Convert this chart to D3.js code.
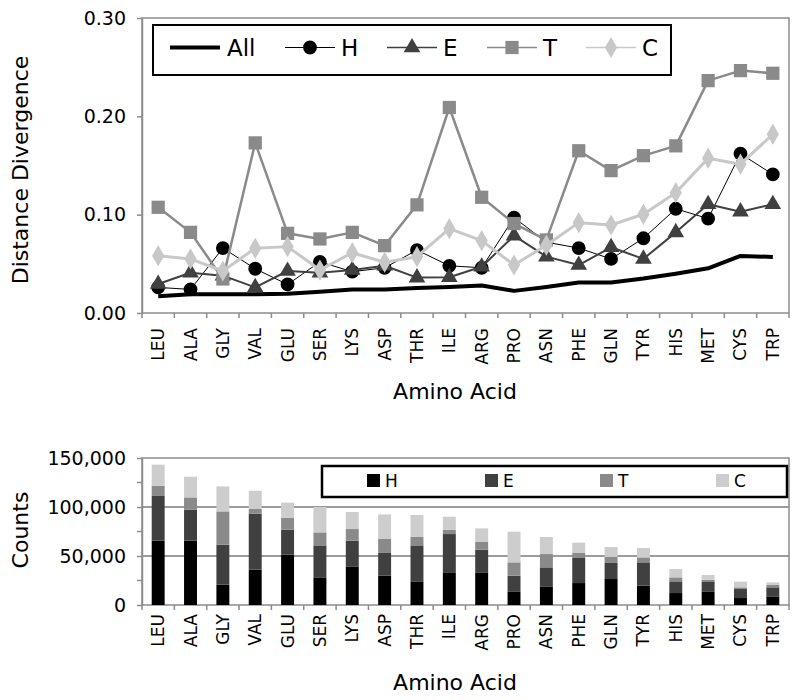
<!DOCTYPE html>
<html><head><meta charset="utf-8">
<script src="https://cdn.jsdelivr.net/npm/d3@7"></script>
<style>body{margin:0;background:#fff}svg{display:block;font-family:"DejaVu Sans",Verdana,sans-serif}</style>
</head><body>
<svg id="c" width="800" height="700"></svg>
<script>
const categories = ["LEU","ALA","GLY","VAL","GLU","SER","LYS","ASP","THR","ILE","ARG","PRO","ASN","PHE","GLN","TYR","HIS","MET","CYS","TRP"];
const divAll = [0.017,0.019,0.019,0.019,0.0195,0.0215,0.024,0.024,0.0255,0.0265,0.028,0.0225,0.0265,0.031,0.031,0.035,0.040,0.0455,0.058,0.057];
const divH = [0.026,0.024,0.066,0.045,0.029,0.052,0.042,0.046,0.064,0.048,0.046,0.097,0.072,0.066,0.055,0.076,0.106,0.096,0.162,0.141];
const divE = [0.0295,0.041,0.038,0.026,0.0427,0.041,0.0437,0.048,0.036,0.0363,0.047,0.0786,0.0573,0.0488,0.0668,0.055,0.082,0.1106,0.103,0.1106];
const divT = [0.1075,0.082,0.0346,0.173,0.081,0.0753,0.082,0.0685,0.110,0.209,0.1177,0.091,0.0743,0.165,0.1448,0.160,0.170,0.2363,0.2465,0.2438];
const divC = [0.0583,0.055,0.0427,0.0658,0.0675,0.0437,0.0613,0.0516,0.0573,0.0858,0.0736,0.0488,0.069,0.0919,0.0895,0.1004,0.1224,0.1574,0.1513,0.1818];
const cntH = [65600,65600,20700,36000,51300,28200,39400,29900,24100,32700,33300,13900,19000,22400,26500,19700,12200,13900,7100,8800];
const cntE = [46200,31600,40800,57200,25500,32600,26200,23200,36700,39700,23100,16000,19400,25600,16400,23800,11900,10200,9200,9200];
const cntT = [9900,12600,34000,4800,12300,13300,11900,14600,8600,4400,7900,13600,13600,5100,6100,5100,4100,1700,1700,2700];
const cntC = [21500,21100,25500,18600,15300,25900,17400,24700,22400,13300,13900,31300,17400,10500,10200,9600,8500,4800,5800,2400];
const topTicks = [0, 0.10, 0.20, 0.30];
const botTicks = [0, 50000, 100000, 150000];
const seriesNames = ["All","H","E","T","C"];

const svg = d3.select("#c");
const L = 142, R = 789;
const frameCol = "#8c8c8c";

// ---------- TOP CHART ----------
const tT = 18, tB = 313;
const xb = d3.scaleBand().domain(categories).range([L, R]);
const xp = d3.scalePoint().domain(categories).range([L, R]).padding(0.5);
const y1 = d3.scaleLinear().domain([0, 0.30]).range([tB, tT]);

const g1 = svg.append("g");
g1.append("rect").attr("x", L).attr("y", tT).attr("width", R - L).attr("height", tB - tT)
  .attr("fill", "none").attr("stroke", frameCol).attr("stroke-width", 1.5);

// y axis
const ya1 = g1.append("g").attr("transform", `translate(${L},0)`)
  .call(d3.axisLeft(y1).tickValues(topTicks).tickFormat(d3.format(".2f")).tickSize(5).tickSizeOuter(0));
ya1.select(".domain").attr("stroke", frameCol).attr("stroke-width", 1.5);
ya1.selectAll(".tick line").attr("stroke", frameCol).attr("stroke-width", 1.5);
ya1.selectAll(".tick text").attr("font-size", 19).attr("fill", "#000").attr("x", -16)
  .attr("font-family", "DejaVu Sans");

// x axis ticks at band edges
const bx1 = g1.append("g");
bx1.selectAll("line").data(categories.concat(["_end"])).join("line")
  .attr("x1", (d, i) => L + i * xb.step()).attr("x2", (d, i) => L + i * xb.step())
  .attr("y1", tB).attr("y2", tB + 5).attr("stroke", frameCol).attr("stroke-width", 1.5);
bx1.selectAll("text").data(categories).join("text")
  .attr("transform", d => `translate(${xp(d)},${tB + 15}) rotate(-90)`)
  .attr("text-anchor", "end").attr("dominant-baseline", "central")
  .attr("font-size", 17).text(d => d);

g1.append("text").attr("x", 455).attr("y", 399).attr("text-anchor", "middle")
  .attr("font-size", 22).text("Amino Acid");
g1.append("text").attr("transform", `translate(28,170) rotate(-90)`).attr("text-anchor", "middle")
  .attr("font-size", 22).text("Distance Divergence");

const styles = {
  All: {data: divAll, color: "#000", w: 4, marker: null},
  H:   {data: divH, color: "#000", w: 1, mcolor: "#000", marker: d3.symbolCircle, size: 150},
  E:   {data: divE, color: "#404040", w: 2, mcolor: "#404040", marker: d3.symbolTriangle, size: 120},
  T:   {data: divT, color: "#8a8a8a", w: 2.5, mcolor: "#8a8a8a", marker: d3.symbolSquare, size: 175},
  C:   {data: divC, color: "#c8c8c8", w: 3, mcolor: "#c8c8c8", marker: d3.symbolDiamond, size: 130}
};
const line = d3.line().x((d, i) => xp(categories[i])).y(d => y1(d));
seriesNames.forEach(n => {
  const s = styles[n];
  g1.append("path").datum(s.data).attr("d", line).attr("fill", "none")
    .attr("stroke", s.color).attr("stroke-width", s.w).attr("stroke-linejoin", "round");
  if (s.marker) {
    g1.append("g").selectAll("path").data(s.data).join("path")
      .attr("transform", (d, i) => `translate(${xp(categories[i])},${y1(d)})`)
      .attr("d", d3.symbol().type(s.marker).size(s.size)).attr("fill", s.mcolor);
  }
});

// legend top
const lg1 = g1.append("g");
lg1.append("rect").attr("x", 153).attr("y", 25).attr("width", 518).attr("height", 50)
  .attr("fill", "#fff").attr("stroke", "#000").attr("stroke-width", 2);
const legX = [170, 285, 387, 487, 586];
seriesNames.forEach((n, i) => {
  const s = styles[n];
  const x0 = legX[i], ly = 47.5;
  lg1.append("line").attr("x1", x0).attr("x2", x0 + 50).attr("y1", ly).attr("y2", ly)
    .attr("stroke", s.color).attr("stroke-width", n === "All" ? 4 : (n === "H" ? 1 : 1.5));
  if (s.marker) lg1.append("path").attr("transform", `translate(${x0 + 25},${ly})`)
    .attr("d", d3.symbol().type(s.marker).size(s.size)).attr("fill", s.mcolor);
  lg1.append("text").attr("x", x0 + (n === "All" ? 57 : 56)).attr("y", ly).attr("dominant-baseline", "central")
    .attr("font-size", 23).text(n);
});

// ---------- BOTTOM CHART ----------
const bT = 458, bB = 605;
const xbb = d3.scaleBand().domain(categories).range([L, R]).paddingInner(0.6).paddingOuter(0.3);
const y2 = d3.scaleLinear().domain([0, 150000]).range([bB, bT]);
const g2 = svg.append("g");

g2.append("g").selectAll("line").data([50000, 100000]).join("line")
  .attr("x1", L).attr("x2", R).attr("y1", d => y2(d)).attr("y2", d => y2(d))
  .attr("stroke", "#7a7a7a").attr("stroke-width", 1.5);
g2.append("rect").attr("x", L).attr("y", bT).attr("width", R - L).attr("height", bB - bT)
  .attr("fill", "none").attr("stroke", frameCol).attr("stroke-width", 1.5);

const ya2 = g2.append("g").attr("transform", `translate(${L},0)`)
  .call(d3.axisLeft(y2).tickValues(botTicks).tickFormat(d3.format(",")).tickSize(5).tickSizeOuter(0));
ya2.select(".domain").attr("stroke", frameCol).attr("stroke-width", 1.5);
ya2.selectAll(".tick line").attr("stroke", frameCol).attr("stroke-width", 1.5);
ya2.selectAll(".tick text").attr("font-size", 19).attr("fill", "#000").attr("x", -16)
  .attr("font-family", "DejaVu Sans");
g2.append("g").selectAll("line").data([25000, 75000, 125000]).join("line")
  .attr("x1", L - 5).attr("x2", L).attr("y1", d => y2(d)).attr("y2", d => y2(d))
  .attr("stroke", frameCol).attr("stroke-width", 1.5);

const stackData = categories.map((c, i) => ({cat: c, H: cntH[i], E: cntE[i], T: cntT[i], C: cntC[i]}));
const keys = ["H", "E", "T", "C"];
const barCol = {H: "#000", E: "#404040", T: "#8a8a8a", C: "#cdcdcd"};
const stacked = d3.stack().keys(keys)(stackData);
g2.append("g").selectAll("g").data(stacked).join("g").attr("fill", d => barCol[d.key])
  .selectAll("rect").data(d => d).join("rect")
  .attr("x", d => xbb(d.data.cat)).attr("width", xbb.bandwidth())
  .attr("y", d => y2(d[1])).attr("height", d => y2(d[0]) - y2(d[1]));

const bx2 = g2.append("g");
bx2.selectAll("line").data(categories.concat(["_end"])).join("line")
  .attr("x1", (d, i) => L + i * xb.step()).attr("x2", (d, i) => L + i * xb.step())
  .attr("y1", bB).attr("y2", bB + 5).attr("stroke", frameCol).attr("stroke-width", 1.5);
bx2.selectAll("text").data(categories).join("text")
  .attr("transform", d => `translate(${xp(d)},${bB + 9}) rotate(-90)`)
  .attr("text-anchor", "end").attr("dominant-baseline", "central")
  .attr("font-size", 17).text(d => d);

g2.append("text").attr("x", 455).attr("y", 690).attr("text-anchor", "middle")
  .attr("font-size", 22).text("Amino Acid");
g2.append("text").attr("transform", `translate(28,530) rotate(-90)`).attr("text-anchor", "middle")
  .attr("font-size", 22).text("Counts");

const lg2 = g2.append("g");
lg2.append("rect").attr("x", 322).attr("y", 466).attr("width", 465).attr("height", 31)
  .attr("fill", "#fff").attr("stroke", "#000").attr("stroke-width", 2.5);
const leg2X = [367, 485, 600, 716];
keys.forEach((k, i) => {
  lg2.append("rect").attr("x", leg2X[i]).attr("y", 474).attr("width", 13).attr("height", 13).attr("fill", barCol[k]);
  lg2.append("text").attr("x", leg2X[i] + 18).attr("y", 481).attr("dominant-baseline", "central")
    .attr("font-size", 17).text(k);
});
</script>
</body></html>
